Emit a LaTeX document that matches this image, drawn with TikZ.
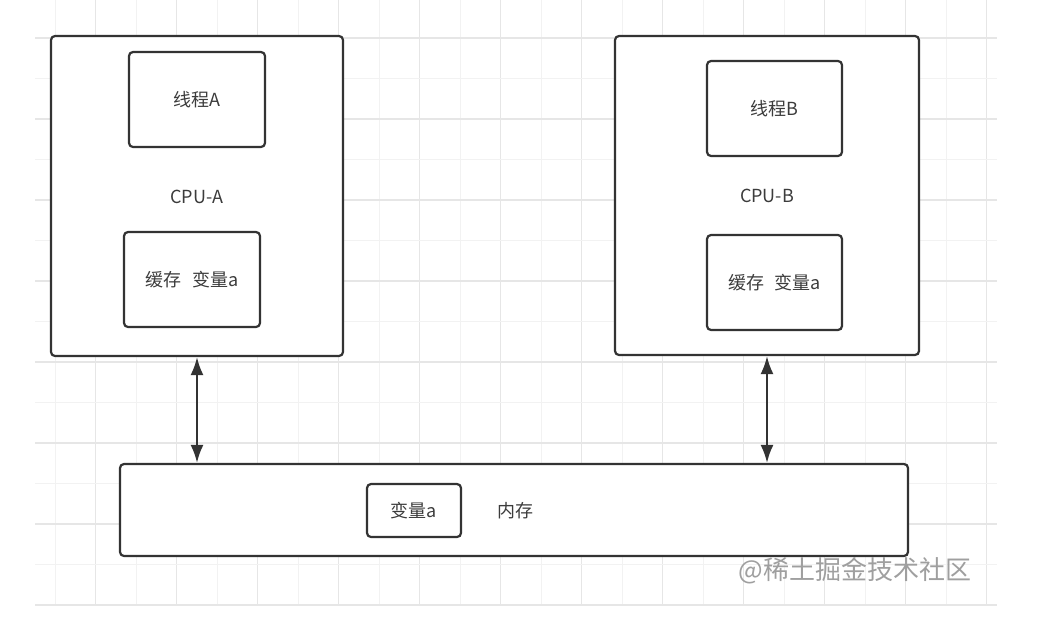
\documentclass[tikz,border=0pt]{standalone}
\usepackage{fontspec}
\setmainfont{Noto Sans CJK SC}
\usetikzlibrary{arrows.meta}
\definecolor{dgray}{HTML}{333333}
\definecolor{tgray}{HTML}{3C3C3C}
\definecolor{gminor}{HTML}{F2F2F2}
\definecolor{gmajor}{HTML}{E6E6E6}

\begin{document}
\begin{tikzpicture}[x=1pt,y=-1pt,every node/.style={font=\fontsize{18}{21}\selectfont,text=tgray,align=center},box/.style={draw=dgray,line width=2.2pt,rounded corners=4pt,fill=white,inner sep=0pt},arr/.style={{Latex[length=18pt,width=13pt]}-{Latex[length=18pt,width=13pt]},dgray,line width=2.2pt},gmin/.style={gminor,line width=1pt},gmaj/.style={gmajor,line width=1.2pt}]
\useasboundingbox (0,0) rectangle (1040,629);
\fill[white] (0,0) rectangle (1040,629);
% background grid
\foreach \k in {0,...,23}{\ifodd\k\relax\draw[gmaj] ({55+40.5*\k},0)--({55+40.5*\k},605);\else\draw[gmin] ({55+40.5*\k},0)--({55+40.5*\k},605);\fi}
\foreach \k in {0,...,14}{\ifodd\k\relax\draw[gmin] (35,{38+40.5*\k})--(997,{38+40.5*\k});\else\draw[gmaj] (35,{38+40.5*\k})--(997,{38+40.5*\k});\fi}
% CPU A
\node[box,minimum width=292pt,minimum height=320pt] (cpua) at (197,196) {};
\node[box,minimum width=136pt,minimum height=95pt] (thra) at (197,99.5) {线程A};
\node (cpualab) at (197,197) {CPU-A};
\node[box,minimum width=136pt,minimum height=95pt] (cachea) at (192,279.5) {缓存\hspace{0.6em}变量a};
% CPU B
\node[box,minimum width=304pt,minimum height=319pt] (cpub) at (767,195.5) {};
\node[box,minimum width=135pt,minimum height=95pt] (thrb) at (774.5,108.5) {线程B};
\node (cpublab) at (767,196) {CPU-B};
\node[box,minimum width=135pt,minimum height=95pt] (cacheb) at (774.5,282.5) {缓存\hspace{0.6em}变量a};
% memory
\node[box,minimum width=788pt,minimum height=92pt] (mem) at (514,510) {};
\node[box,minimum width=94pt,minimum height=53pt] (vara) at (414,510.5) {变量a};
\node (memlab) at (515,511) {内存};
\draw[arr] (cpua.south)--(cpua.south |- mem.north);
\draw[arr] (cpub.south)--(cpub.south |- mem.north);
\node[font=\fontsize{26}{30}\selectfont,text=gray!75] (wm) at (855,571) {@稀土掘金技术社区};
\end{tikzpicture}
\end{document}
